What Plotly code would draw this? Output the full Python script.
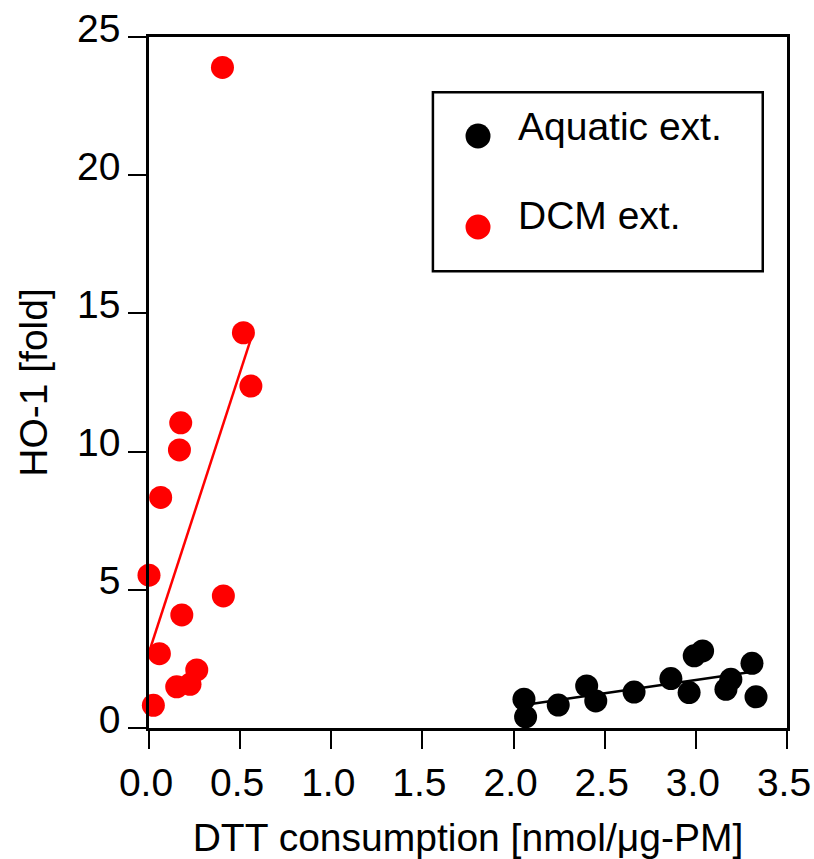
import numpy as np
import plotly.graph_objects as go

# ---- data ----
aquatic_x = [2.057, 2.066, 2.245, 2.401, 2.451, 2.661, 2.863, 2.963, 2.991, 3.037, 3.165, 3.192, 3.308, 3.330]
aquatic_y = [1.04, 0.40, 0.83, 1.52, 0.98, 1.30, 1.79, 1.28, 2.61, 2.79, 1.40, 1.76, 2.34, 1.13]

dcm_x = [0.518, 0.559, 0.174, 0.167, 0.064, 0.000, 0.408, 0.180, 0.057, 0.262, 0.225, 0.152, 0.024, 0.403]
dcm_y = [14.30, 12.37, 11.04, 10.06, 8.34, 5.53, 4.78, 4.09, 2.69, 2.10, 1.58, 1.49, 0.82, 23.90]

series_names = ["Aquatic ext.", "DCM ext."]
series_colors = ["#000000", "#ff0000"]

x_ticks = [0.0, 0.5, 1.0, 1.5, 2.0, 2.5, 3.0, 3.5]
y_ticks = [0, 5, 10, 15, 20, 25]

x_title = "DTT consumption [nmol/μg-PM]"
y_title = "HO-1 [fold]"

FONT = "Liberation Sans, Arial, sans-serif"
FS = 39


def fit_line(xs, ys):
    xs = np.asarray(xs, float)
    ys = np.asarray(ys, float)
    slope, intercept = np.polyfit(xs, ys, 1)
    lx = np.array([xs.min(), xs.max()])
    return lx, slope * lx + intercept


fig = go.Figure()
for xs, ys, name, col in [(aquatic_x, aquatic_y, series_names[0], series_colors[0]),
                          (dcm_x, dcm_y, series_names[1], series_colors[1])]:
    lx, ly = fit_line(xs, ys)
    fig.add_trace(go.Scatter(x=lx, y=ly, mode="lines", line=dict(color=col, width=2.5),
                             showlegend=False, hoverinfo="skip", cliponaxis=False))
for xs, ys, name, col in [(aquatic_x, aquatic_y, series_names[0], series_colors[0]),
                          (dcm_x, dcm_y, series_names[1], series_colors[1])]:
    fig.add_trace(go.Scatter(x=xs, y=ys, mode="markers", name=name,
                             marker=dict(color=col, size=23, line=dict(width=0)),
                             showlegend=False, cliponaxis=False))

# ---- manual legend box (paper coordinates) ----
L_X0, L_X1, L_Y0, L_Y1 = 0.445, 0.962, 0.661, 0.920
KEY_X, TEXT_X = 0.5157, 0.5752
ROW_KEY_Y = [0.8567, 0.7250]
ROW_TEXT_Y = [0.8698, 0.7424]

shapes = [dict(type="rect", xref="paper", yref="paper", x0=L_X0, x1=L_X1, y0=L_Y0, y1=L_Y1,
               line=dict(color="black", width=2.5), fillcolor="white", layer="above")]
annotations = []
for i, (name, col) in enumerate(zip(series_names, series_colors)):
    shapes.append(dict(type="circle", xref="paper", yref="paper", xsizemode="pixel", ysizemode="pixel",
                       xanchor=KEY_X, yanchor=ROW_KEY_Y[i], x0=-12.5, x1=12.5, y0=-12.5, y1=12.5,
                       fillcolor=col, line=dict(width=0), layer="above"))
    annotations.append(dict(xref="paper", yref="paper", x=TEXT_X, y=ROW_TEXT_Y[i], text=name,
                            showarrow=False, xanchor="left", yanchor="middle",
                            font=dict(family=FONT, size=FS, color="black")))

axis_common = dict(showline=True, linecolor="black", linewidth=2.5, mirror=True,
                   ticks="outside", ticklen=18, tickwidth=2, tickcolor="black",
                   showgrid=False, zeroline=False, ticklabeloverflow="allow",
                   automargin=False,
                   tickfont=dict(family=FONT, size=FS, color="black"))

fig.update_layout(
    width=814, height=859,
    margin=dict(l=149, r=27, t=37, b=131, autoexpand=False),
    paper_bgcolor="white", plot_bgcolor="white",
    font=dict(family=FONT, size=FS, color="black"),
    xaxis=dict(range=[0, 3.5], tickvals=x_ticks, ticktext=[f"{v:.1f}" for v in x_ticks],
               ticklabelshift=-3,
               title=dict(text=x_title, font=dict(family=FONT, size=FS), standoff=26),
               **axis_common),
    yaxis=dict(range=[0, 25], tickvals=y_ticks, ticktext=[str(v) for v in y_ticks],
               ticklabelshift=-9,
               title=dict(text=y_title, font=dict(family=FONT, size=FS), standoff=18),
               **axis_common),
    shapes=shapes,
    annotations=annotations,
    showlegend=False,
)

fig.write_html("out.html")
